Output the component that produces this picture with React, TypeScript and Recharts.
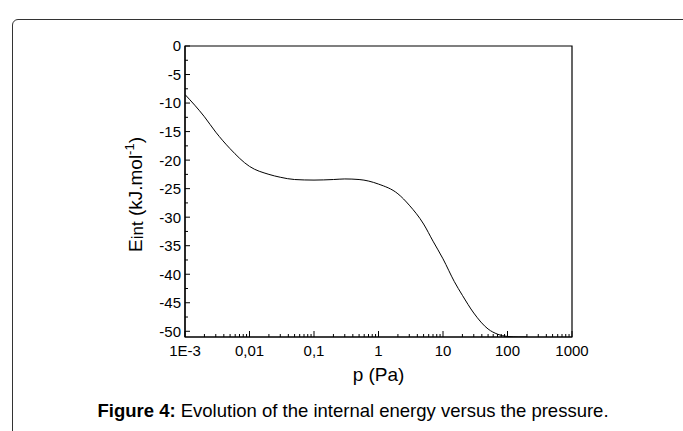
import { LineChart, Line, XAxis, YAxis, ReferenceArea, Label } from 'recharts';

// pressure (Pa) and internal energy (kJ/mol)
const pressures: number[] = [
  0.001, 0.002, 0.003, 0.005, 0.01, 0.02, 0.03, 0.05, 0.1, 0.2, 0.3, 0.5, 1, 2, 3,
  5, 7, 10, 15, 20, 30, 50, 70, 100, 150, 200,
];
const energies: number[] = [
  -8.5, -12.4, -15.1, -18.0, -21.1, -22.5, -23.0, -23.4, -23.5, -23.4, -23.3, -23.4,
  -24.2, -25.9, -27.9, -31.2, -34.2, -37.3, -41.3, -43.7, -46.8, -49.6, -50.5, -50.9,
  -51.0, -51.0,
];

const xMajor: number[] = [0.001, 0.01, 0.1, 1, 10, 100, 1000];
const xMajorLabels: string[] = ['1E-3', '0,01', '0,1', '1', '10', '100', '1000'];
const xMinorSteps: number[] = [2, 3, 4, 5, 6, 7, 8, 9];

const yMajor: number[] = [0, -5, -10, -15, -20, -25, -30, -35, -40, -45, -50];
const yMinor: number[] = [-2.5, -7.5, -12.5, -17.5, -22.5, -27.5, -32.5, -37.5, -42.5, -47.5];

const data = pressures.map((p, i) => ({ p, e: energies[i] }));

const xTicks: number[] = [...xMajor];
xMajor.slice(0, -1).forEach((d) => xMinorSteps.forEach((s) => xTicks.push(+(d * s).toPrecision(3))));
const yTicks: number[] = [...yMajor, ...yMinor];

const FONT = '"Liberation Sans", Arial, sans-serif';

const majorIndex = (v: number) => xMajor.findIndex((m) => Math.abs(m - v) / m < 1e-6);

const renderXTick = (props: any) => {
  const { x, y, payload, index } = props;
  const v = payload.value as number;
  const idx = majorIndex(v);
  const major = idx >= 0;
  return (
    <g key={`xt-${index}`}>
      <line x1={x} x2={x} y1={y} y2={y - (major ? 6 : 3)} stroke="#000" strokeWidth={1} />
      {major && (
        <text x={x} y={y + 19} textAnchor="middle" fontSize={15} fontFamily={FONT} fill="#000">
          {xMajorLabels[idx]}
        </text>
      )}
    </g>
  );
};

const renderYTick = (props: any) => {
  const { x, y, payload, index } = props;
  const v = payload.value as number;
  const major = v % 5 === 0;
  return (
    <g key={`yt-${index}`}>
      <line x1={x} x2={x + (major ? 5 : 3)} y1={y} y2={y} stroke="#000" strokeWidth={1} />
      {major && (
        <text x={x - 4} y={y} dy="0.36em" textAnchor="end" fontSize={15} fontFamily={FONT} fill="#000">
          {v}
        </text>
      )}
    </g>
  );
};

const renderYTitle = (props: any) => {
  const vb = props.viewBox || {};
  const cx = vb.x + vb.width - 43;
  const cy = vb.y + vb.height / 2 + 3;
  return (
    <text
      x={cx}
      y={cy}
      transform={`rotate(-90 ${cx} ${cy})`}
      textAnchor="middle"
      fontSize={19}
      fontFamily={FONT}
      fill="#000"
    >
      E
      <tspan fontSize={17} dy={1}>int</tspan>
      <tspan dy={-1}> (kJ.mol</tspan>
      <tspan fontSize={13} dy={-8}>-1</tspan>
      <tspan dy={8}>)</tspan>
    </text>
  );
};

const renderXTitle = (props: any) => {
  const vb = props.viewBox || {};
  return (
    <text x={vb.x + vb.width / 2} y={vb.y + 44} textAnchor="middle" fontSize={19} fontFamily={FONT} fill="#000">
      p (Pa)
    </text>
  );
};

export default function App() {
  return (
    <div style={{ position: 'fixed', left: 0, top: 0, width: 683, height: 431, overflow: 'hidden', background: '#fff' }}>
      <div
        style={{
          position: 'absolute',
          left: 12,
          top: 19,
          width: 690,
          height: 440,
          border: '1px solid #333',
          borderRadius: 6,
          boxSizing: 'border-box',
        }}
      />
      <div style={{ position: 'absolute', left: 0, top: 0 }}>
        <LineChart width={683} height={431} data={data} margin={{ top: 46, right: 111, bottom: 44, left: 125 }}>
          <XAxis
            dataKey="p"
            type="number"
            scale="log"
            domain={[0.001, 1000]}
            allowDataOverflow
            ticks={xTicks}
            interval={0}
            tick={renderXTick}
            tickLine={false}
            tickSize={0}
            tickMargin={0}
            height={50}
            axisLine={{ stroke: '#000', strokeWidth: 1.2 }}
          >
            <Label content={renderXTitle} />
          </XAxis>
          <YAxis
            type="number"
            domain={[-51, 0]}
            allowDataOverflow
            ticks={yTicks}
            interval={0}
            tick={renderYTick}
            tickLine={false}
            tickSize={0}
            tickMargin={0}
            width={60}
            axisLine={{ stroke: '#000', strokeWidth: 1.2 }}
          >
            <Label content={renderYTitle} />
          </YAxis>
          <ReferenceArea x1={0.001} x2={1000} y1={-51} y2={0} fill="none" stroke="#000" strokeWidth={1.2} />
          <Line type="monotone" dataKey="e" stroke="#000" strokeWidth={1} dot={false} isAnimationActive={false} />
        </LineChart>
      </div>
      <div
        style={{
          position: 'absolute',
          left: 12,
          width: 682,
          top: 400,
          textAlign: 'center',
          fontFamily: FONT,
          fontSize: 18.5,
          color: '#000',
        }}
      >
        <b>Figure 4:</b> Evolution of the internal energy versus the pressure.
      </div>
    </div>
  );
}
